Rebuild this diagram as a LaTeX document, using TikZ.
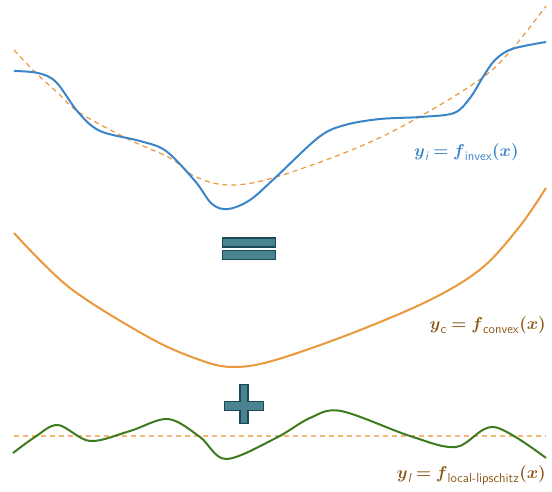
\documentclass[tikz,border=0pt]{standalone}
\usepackage{amssymb,amsmath}
\usepackage{tikz}

\definecolor{invexblue}{RGB}{59,132,200}
\definecolor{convexorange}{RGB}{234,152,58}
\definecolor{labelbrown}{RGB}{140,88,24}
\definecolor{lipgreen}{RGB}{62,122,30}
\definecolor{opteal}{RGB}{74,131,144}
\definecolor{opdark}{RGB}{28,74,84}

\begin{document}
\begin{tikzpicture}[x=1pt,y=-1pt,
        curve/.style={line width=2pt,smooth,tension=0.55},
        guide/.style={line width=1.2pt,dashed,dash pattern=on 5pt off 4pt,smooth,tension=0.6},
        opbar/.style={draw=opdark,fill=opteal,line width=1.2pt},
        eqn/.style={font=\fontsize{18.5}{22}\selectfont,inner sep=0pt}]
    \useasboundingbox (0,0) rectangle (552,492);

    % Top: invex function and its convex guide
    \draw[guide,convexorange] plot coordinates {(14,50) (35,72) (60,95) (80,113) (130,140) (170,158) (196,177) (230,185) (276,177) (359,147) (419,117) (482,78) (513,48) (546,6)};
    \draw[curve,invexblue] plot coordinates {(14,71) (38,73) (56,82) (78,112) (100,131) (140,141) (166,151) (195,181) (212,204) (228,209) (250,200) (276,177) (319,137) (345,125) (380,119) (420,117) (454,113) (470,98) (483,77) (495,60) (512,49) (546,42)};
    \node[eqn,text=invexblue,anchor=west] (invexlbl) at (414,152) {$\boldsymbol{y}_{\textsf{\itshape i}}\boldsymbol{=}\boldsymbol{f}_{\textsf{invex}}\boldsymbol{(x)}$};

    % Equals sign
    \node[opbar,minimum width=53pt,minimum height=9pt,inner sep=0pt] (eqtop) at (249,242.5) {};
    \node[opbar,minimum width=53pt,minimum height=9pt,inner sep=0pt] (eqbot) at (249,255) {};

    % Middle: convex function
    \draw[curve,convexorange] plot coordinates {(14,233) (70,288) (150,338) (200,360) (232,367) (272,361) (350,334) (430,300) (482,268) (520,226) (546,188)};
    \node[eqn,text=labelbrown,anchor=east] (convexlbl) at (546,325) {$\boldsymbol{y}_{\textsf{c}}\boldsymbol{=}\boldsymbol{f}_{\textsf{convex}}\boldsymbol{(x)}$};

    % Plus sign
    \node[opbar,minimum width=39pt,minimum height=9pt,inner sep=0pt] (plush) at (244,406) {};
    \node[opbar,minimum width=8pt,minimum height=39pt,inner sep=0pt] (plusv) at (244,404) {};
    \fill[opteal] (plush.north west) ++(1.2,1.2) rectangle ([shift={(-1.2,-1.2)}]plush.south east);

    % Bottom: local lipschitz function
    \draw[guide,convexorange!70] (14,436) -- (546,436);
    \draw[curve,lipgreen] plot coordinates {(13,453) (35,437) (58,425) (90,441) (130,431) (168,419) (200,437) (226,459) (276,438) (310,418) (341,411) (410,436) (456,447) (494,427) (546,458)};
    \node[eqn,text=labelbrown,anchor=east] (liplbl) at (546,475) {$\boldsymbol{y}_{\textsf{\itshape l}}\boldsymbol{=}\boldsymbol{f}_{\textsf{local-lipschitz}}\boldsymbol{(x)}$};
\end{tikzpicture}
\end{document}
